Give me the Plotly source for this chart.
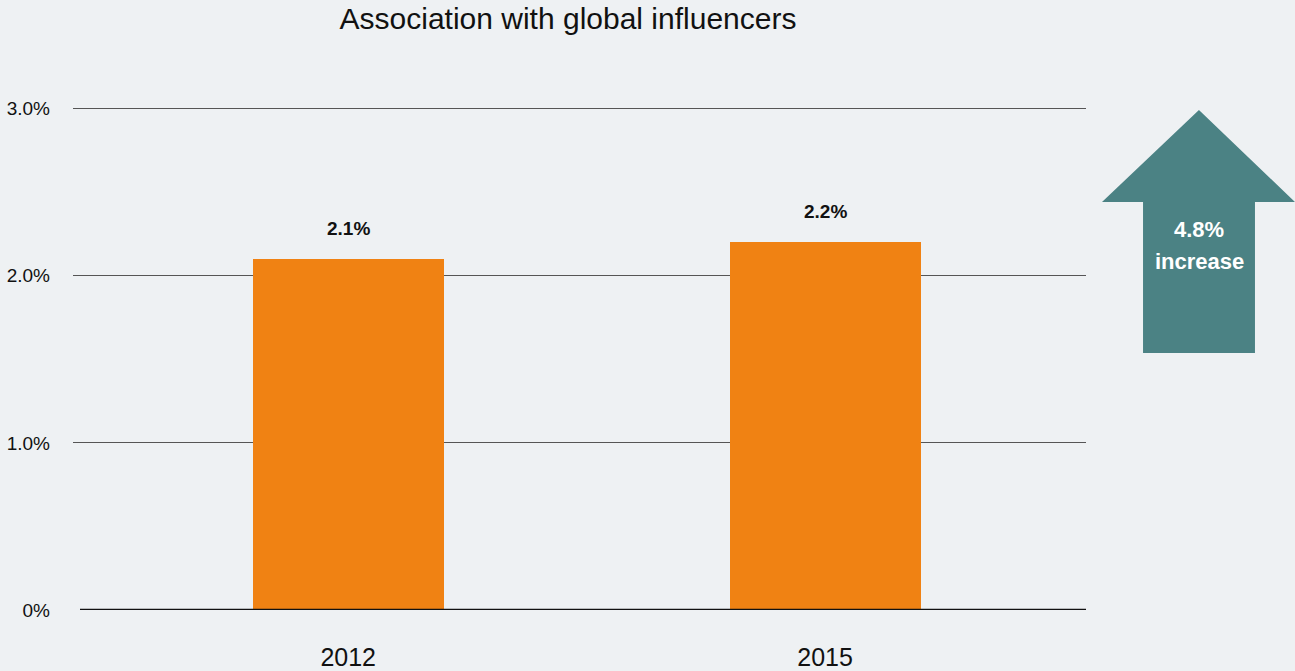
import plotly.graph_objects as go

years = ["2012", "2015"]
shares = [2.1, 2.2]          # percent
change_pct = "4.8%"
change_word = "increase"
y_ticks = [0, 1, 2, 3]
y_tick_text = ["0%", "1.0%", "2.0%", "3.0%"]

bg = "#eef1f3"
orange = "#f08213"
teal = "#4b8284"
font = "Liberation Sans"

# pixel geometry of the plotting area
W, H = 1295, 671
M_L, M_R, M_T, M_B = 73, 209, 107, 61
PLOT_W = W - M_L - M_R
PLOT_H = H - M_T - M_B


def px(x):
    return (x - M_L) / PLOT_W


def py(y):
    return (H - M_B - y) / PLOT_H


fig = go.Figure()
fig.add_trace(go.Bar(
    x=[0, 1], y=shares, width=0.4,
    marker=dict(color=orange, line=dict(width=0)),
    hoverinfo="skip",
))

# value labels above each bar
for i, v in enumerate(shares):
    fig.add_annotation(x=i, y=v, text=f"<b>{v:.1f}%</b>", showarrow=False,
                       xanchor="center", yanchor="bottom", yshift=18,
                       font=dict(family=font, size=19, color="#111"))

# baseline
fig.add_shape(type="line", xref="paper", yref="y", x0=px(80), x1=1, y0=0, y1=0,
              line=dict(color="#111", width=2.5))

# up arrow with the change
pts = [(1199, 110), (1295, 202), (1255, 202), (1255, 353),
       (1143, 353), (1143, 202), (1102, 202)]
path = "M " + " L ".join(f"{px(a):.4f} {py(b):.4f}" for a, b in pts) + " Z"
fig.add_shape(type="path", xref="paper", yref="paper", path=path,
              fillcolor=teal, line=dict(width=0))
for txt, yy in [(change_pct, 229), (change_word, 261)]:
    fig.add_annotation(xref="paper", yref="paper", x=px(1199), y=py(yy), text=f"<b>{txt}</b>",
                       showarrow=False, xanchor="center", yanchor="middle",
                       font=dict(family=font, size=22, color="white"))

fig.update_layout(
    width=W, height=H,
    paper_bgcolor=bg, plot_bgcolor=bg,
    margin=dict(l=M_L, r=M_R, t=M_T, b=M_B, autoexpand=False),
    showlegend=False,
    title=dict(text="Association with global influencers", xref="container",
               x=568 / W, xanchor="center", y=0.973, yanchor="middle",
               font=dict(family=font, size=30, color="#111")),
    xaxis=dict(range=[-0.577, 1.547], tickvals=[0, 1], ticktext=years,
               showgrid=False, zeroline=False, showline=False, ticks="",
               ticklabelstandoff=30, automargin=False,
               tickfont=dict(family=font, size=25, color="#111")),
    yaxis=dict(range=[0, 3.01], tickvals=y_ticks, ticktext=y_tick_text,
               showgrid=True, gridcolor="#555", gridwidth=1, zeroline=False,
               ticks="", ticklabelstandoff=22, automargin=False,
               tickfont=dict(family=font, size=19, color="#111")),
    bargap=0,
)

fig.write_html("out.html")
